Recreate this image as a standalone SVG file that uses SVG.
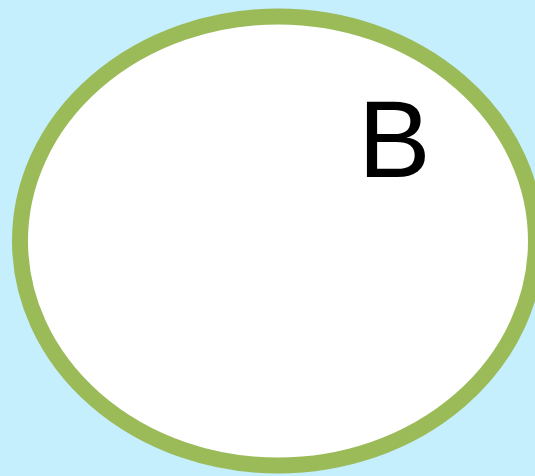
<svg xmlns="http://www.w3.org/2000/svg" width="535" height="476" viewBox="0 0 535 476">
<style>
.bg{fill:#C5EFFD}
.set{fill:#FFFFFF;stroke:#9BBB59;stroke-width:16}
.lbl{font-family:"Liberation Sans",Arial,sans-serif;font-size:109px;fill:#000000}
</style>
<rect class="bg" x="0" y="0" width="535" height="476"/>
<g id="setB">
<ellipse class="set" cx="278" cy="241" rx="258" ry="224.5"/>
<text class="lbl" x="358" y="177">B</text>
</g>
</svg>
